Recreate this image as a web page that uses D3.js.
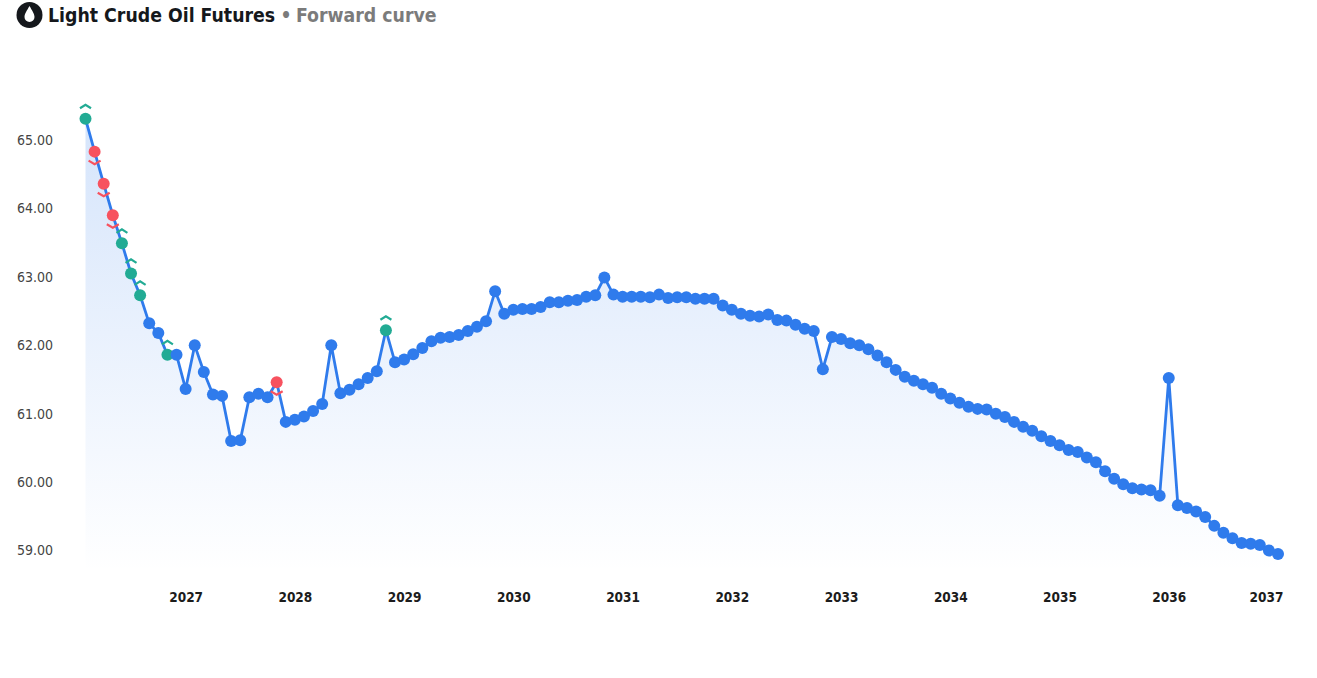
<!DOCTYPE html>
<html>
<head>
<meta charset="utf-8">
<script src="https://cdn.jsdelivr.net/npm/d3@7"></script>
<style>
  html, body { margin: 0; padding: 0; background: #fff; }
  svg { display: block; }
  .title { font-family: "DejaVu Sans Condensed", "DejaVu Sans", sans-serif; font-weight: 700; font-size: 19.3px; }
  .ylab text { font-family: "DejaVu Sans Condensed", "DejaVu Sans", sans-serif; font-size: 14px; fill: #444; }
  .xlab text { font-family: "DejaVu Sans Condensed", "DejaVu Sans", sans-serif; font-size: 13.5px; font-weight: 700; fill: #1c1c1c; }
</style>
</head>
<body>
<script>
// monthly contracts, first one is Feb 2026, last one Jan 2037
var prices = [
  65.31, 64.83, 64.36, 63.90, 63.49, 63.05, 62.73, 62.32, 62.18, 61.86, 61.86,
  61.36, 62.00, 61.61, 61.28, 61.26, 60.60, 60.61, 61.24, 61.29, 61.24, 61.46, 60.88,
  60.91, 60.96, 61.04, 61.14, 62.00, 61.30, 61.35, 61.43, 61.52, 61.62, 62.22, 61.75,
  61.79, 61.87, 61.96, 62.06, 62.11, 62.12, 62.15, 62.21, 62.27, 62.35, 62.79, 62.46,
  62.52, 62.53, 62.53, 62.56, 62.63, 62.63, 62.65, 62.66, 62.71, 62.73, 62.99, 62.74,
  62.71, 62.71, 62.71, 62.70, 62.74, 62.69, 62.70, 62.70, 62.68, 62.68, 62.68, 62.58,
  62.52, 62.46, 62.43, 62.42, 62.45, 62.37, 62.36, 62.30, 62.24, 62.21, 61.65, 62.12,
  62.09, 62.03, 62.00, 61.94, 61.85, 61.75, 61.64, 61.54, 61.48, 61.43, 61.38, 61.29,
  61.22, 61.16, 61.10, 61.07, 61.06, 61.00, 60.95, 60.88, 60.81, 60.75, 60.67, 60.60,
  60.54, 60.47, 60.44, 60.36, 60.29, 60.16, 60.05, 59.97, 59.91, 59.89, 59.88, 59.80,
  61.52, 59.66, 59.62, 59.57, 59.49, 59.36, 59.26, 59.18, 59.11, 59.10, 59.08, 59.00,
  58.95
];
var upMarkers = [0, 4, 5, 6, 9, 33];
var downMarkers = [1, 2, 3, 21];
var priceTicks = [59, 60, 61, 62, 63, 64, 65];
var yearTicks = [2027, 2028, 2029, 2030, 2031, 2032, 2033, 2034, 2035, 2036, 2037];

var width = 1317, height = 678;
var blue = "#2f7bec", green = "#22ab94", red = "#f7525f";

var svg = d3.select("body").append("svg")
    .attr("width", width)
    .attr("height", height);

var x = d3.scalePoint()
    .domain(d3.range(prices.length))
    .range([85.5, 1278]);

var y = d3.scaleLinear()
    .domain([59, 65])
    .range([550.5, 140]);

var bottom = 572;

var grad = svg.append("defs").append("linearGradient")
    .attr("id", "fade")
    .attr("gradientUnits", "userSpaceOnUse")
    .attr("x1", 0).attr("x2", 0)
    .attr("y1", y(d3.max(prices))).attr("y2", bottom);
grad.append("stop").attr("offset", "0").attr("stop-color", blue).attr("stop-opacity", 0.2);
grad.append("stop").attr("offset", "0.45").attr("stop-color", blue).attr("stop-opacity", 0.11);
grad.append("stop").attr("offset", "1").attr("stop-color", blue).attr("stop-opacity", 0);

var area = d3.area()
    .x(function(d, i) { return x(i); })
    .y0(bottom)
    .y1(function(d) { return y(d); });

var line = d3.line()
    .x(function(d, i) { return x(i); })
    .y(function(d) { return y(d); });

svg.append("path")
    .attr("d", area(prices))
    .attr("fill", "url(#fade)");

svg.append("path")
    .attr("d", line(prices))
    .attr("fill", "none")
    .attr("stroke", blue)
    .attr("stroke-width", 2.8);

function pointColor(i) {
    if (upMarkers.indexOf(i) >= 0) return green;
    if (downMarkers.indexOf(i) >= 0) return red;
    return blue;
}

svg.selectAll(".dot")
    .data(prices)
    .enter()
    .append("circle")
    .attr("class", "dot")
    .attr("cx", function(d, i) { return x(i); })
    .attr("cy", function(d) { return y(d); })
    .attr("r", 6)
    .attr("fill", function(d, i) { return pointColor(i); });

// little chevrons above / below the flagged points
svg.selectAll(".up")
    .data(upMarkers)
    .enter()
    .append("path")
    .attr("class", "up")
    .attr("d", function(i) {
        var cx = x(i), cy = y(prices[i]);
        return d3.line()([[cx - 5.5, cy - 10.5], [cx, cy - 14], [cx + 5.5, cy - 10.5]]);
    })
    .attr("fill", "none")
    .attr("stroke", green)
    .attr("stroke-width", 2.2);

svg.selectAll(".down")
    .data(downMarkers)
    .enter()
    .append("path")
    .attr("class", "down")
    .attr("d", function(i) {
        var cx = x(i), cy = y(prices[i]);
        return d3.line()([[cx - 6, cy + 9], [cx, cy + 12.5], [cx + 6, cy + 9]]);
    })
    .attr("fill", "none")
    .attr("stroke", red)
    .attr("stroke-width", 2.2);

// axes
var yAxis = svg.append("g")
    .attr("class", "ylab")
    .attr("transform", "translate(53,0)")
    .call(d3.axisLeft(y).tickValues(priceTicks).tickSize(0).tickPadding(0).tickFormat(d3.format(".2f")));
yAxis.select(".domain").remove();

var xAxis = svg.append("g")
    .attr("class", "xlab")
    .attr("transform", "translate(0,592)")
    .call(d3.axisBottom(x)
        .tickValues(yearTicks.map(function(yr) { return (yr - 2026) * 12 - 1; }))
        .tickSize(0)
        .tickPadding(0)
        .tickFormat(function(i) { return yearTicks[(i + 1) / 12 - 1]; }));
xAxis.select(".domain").remove();
// the last label gets pushed in from the right edge
xAxis.selectAll("text")
    .filter(function(i) { return i === prices.length - 1; })
    .attr("dx", -12);

// header
svg.append("circle")
    .attr("cx", 29.5).attr("cy", 15).attr("r", 13)
    .attr("fill", "#15181c");
svg.append("path")
    .attr("d", "M29.5,6 C27,10.5 24.5,13.5 24.5,17 A5,5 0 0 0 34.5,17 C34.5,13.5 32,10.5 29.5,6 Z")
    .attr("fill", "#fff");

var title = svg.append("text")
    .attr("class", "title")
    .attr("x", 48)
    .attr("y", 22);
title.append("tspan").attr("fill", "#15181c").text("Light Crude Oil Futures");
title.append("tspan").attr("fill", "#7b7b7b").attr("x", 280.5).text("•");
title.append("tspan").attr("fill", "#7b7b7b").attr("x", 296).text("Forward curve");
</script>
</body>
</html>
